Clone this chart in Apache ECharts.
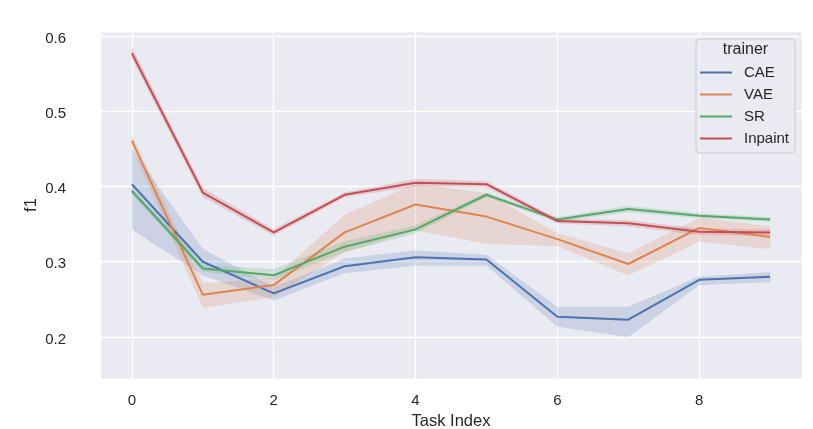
<!DOCTYPE html>
<html>
<head>
<meta charset="utf-8">
<script src="https://cdn.jsdelivr.net/npm/echarts@6/dist/echarts.min.js"></script>
<style>html,body{margin:0;padding:0;background:#fff;}#c{width:813px;height:429px;}</style>
</head>
<body>
<div id="c"></div>
<script>
const taskIndex = [0,1,2,3,4,5,6,7,8,9];
const trainers = ['CAE','VAE','SR','Inpaint'];

const caeMean = [0.403,0.300,0.258,0.294,0.306,0.303,0.227,0.223,0.276,0.280];
const caeLow  = [0.343,0.282,0.249,0.285,0.295,0.295,0.214,0.200,0.269,0.273];
const caeHigh = [0.449,0.317,0.266,0.304,0.315,0.309,0.240,0.240,0.280,0.286];

const vaeMean = [0.461,0.256,0.269,0.339,0.376,0.360,0.330,0.297,0.345,0.333];
const vaeLow  = [0.452,0.239,0.253,0.313,0.342,0.324,0.321,0.282,0.327,0.317];
const vaeHigh = [0.468,0.271,0.278,0.362,0.404,0.391,0.338,0.311,0.358,0.347];

const srMean = [0.394,0.291,0.282,0.320,0.343,0.389,0.356,0.370,0.361,0.356];
const srLow  = [0.390,0.287,0.276,0.313,0.338,0.386,0.353,0.366,0.358,0.353];
const srHigh = [0.398,0.296,0.290,0.327,0.348,0.392,0.359,0.374,0.364,0.359];

const inpMean = [0.577,0.392,0.339,0.389,0.405,0.403,0.354,0.351,0.340,0.339];
const inpLow  = [0.570,0.386,0.335,0.386,0.400,0.399,0.351,0.347,0.336,0.335];
const inpHigh = [0.585,0.398,0.343,0.392,0.410,0.407,0.357,0.355,0.344,0.343];

const colors = ['#4c72b0','#dd8452','#55a868','#c44e52'];
const means = [caeMean, vaeMean, srMean, inpMean];
const lows = [caeLow, vaeLow, srLow, inpLow];
const highs = [caeHigh, vaeHigh, srHigh, inpHigh];

const FONT = 'Liberation Sans, Arial, sans-serif';
const TXT = '#262626';

function bandSeries(k) {
  const lo = lows[k], hi = highs[k];
  return {
    type: 'custom',
    name: trainers[k] + ' band',
    silent: true,
    z: 1,
    data: taskIndex.map((x, i) => [x, lo[i], hi[i]]),
    encode: { x: 0, y: [1, 2] },
    renderItem: function (params, api) {
      if (params.dataIndex !== 0) return null;
      const pts = [];
      for (let i = 0; i < taskIndex.length; i++) pts.push(api.coord([taskIndex[i], hi[i]]));
      for (let i = taskIndex.length - 1; i >= 0; i--) pts.push(api.coord([taskIndex[i], lo[i]]));
      return {
        type: 'polygon',
        shape: { points: pts },
        style: { fill: colors[k], opacity: 0.2, stroke: colors[k], lineWidth: 0.8, strokeOpacity: 0.25 }
      };
    }
  };
}

function lineSeries(k) {
  return {
    type: 'line',
    name: trainers[k],
    z: 3,
    data: taskIndex.map((x, i) => [x, means[k][i]]),
    showSymbol: false,
    symbol: 'none',
    lineStyle: { color: colors[k], width: 2 },
    itemStyle: { color: colors[k] },
    emphasis: { disabled: true },
    animation: false
  };
}

const series = [];
for (let k = 0; k < 4; k++) series.push(bandSeries(k));
for (let k = 0; k < 4; k++) series.push(lineSeries(k));

const chart = echarts.init(document.getElementById('c'), null, { renderer: 'canvas' });
chart.setOption({
  animation: false,
  backgroundColor: '#ffffff',
  textStyle: { fontFamily: FONT },
  grid: {
    left: 100, right: 11, top: 31, bottom: 50,
    containLabel: false,
    outerBoundsMode: 'none',
    show: true, backgroundColor: '#eaeaf2', borderWidth: 0
  },
  xAxis: {
    type: 'value',
    min: -0.45, max: 9.45,
    name: 'Task Index',
    nameLocation: 'middle',
    nameGap: 34,
    nameMoveOverlap: false,
    nameTextStyle: { fontSize: 16.5, color: TXT, fontFamily: FONT },
    axisLine: { show: false },
    axisTick: { show: false },
    axisLabel: { showMinLabel: false, showMaxLabel: false, margin: 14, fontSize: 15, color: TXT, fontFamily: FONT },
    splitLine: { show: true, lineStyle: { color: '#ffffff', width: 1.3 } }
  },
  yAxis: {
    type: 'value',
    min: 0.1442, max: 0.6066,
    name: 'f1',
    nameLocation: 'middle',
    nameRotate: 90,
    nameGap: 60,
    nameMoveOverlap: false,
    nameTextStyle: { fontSize: 16.5, color: TXT, fontFamily: FONT },
    axisLine: { show: false },
    axisTick: { show: false },
    axisLabel: { showMinLabel: false, showMaxLabel: false, margin: 34, color: TXT, fontFamily: FONT,
      formatter: v => '{a|' + v.toFixed(1) + '}',
      rich: { a: { fontSize: 15, color: TXT, fontFamily: FONT, padding: [5, 0, 0, 0] } } },
    splitLine: { show: true, lineStyle: { color: '#ffffff', width: 1.3 } }
  },
  legend: {
    data: trainers,
    orient: 'vertical',
    left: 696, top: 39,
    padding: [25, 6, 6, 4],
    itemGap: 5,
    itemWidth: 32, itemHeight: 2,
    icon: 'rect',
    selectedMode: false,
    backgroundColor: 'rgba(234,234,242,0.8)',
    borderColor: '#cccccc',
    borderWidth: 1,
    borderRadius: 4,
    textStyle: { fontSize: 15, color: TXT, fontFamily: FONT, lineHeight: 17, padding: [0, 0, 0, 7] }
  },
  graphic: [{
    type: 'text',
    x: 745.5, y: 50,
    z: 100,
    style: { text: 'trainer', fontSize: 16, fill: TXT, fontFamily: FONT, align: 'center', verticalAlign: 'middle' }
  }],
  series: series
});
</script>
</body>
</html>
